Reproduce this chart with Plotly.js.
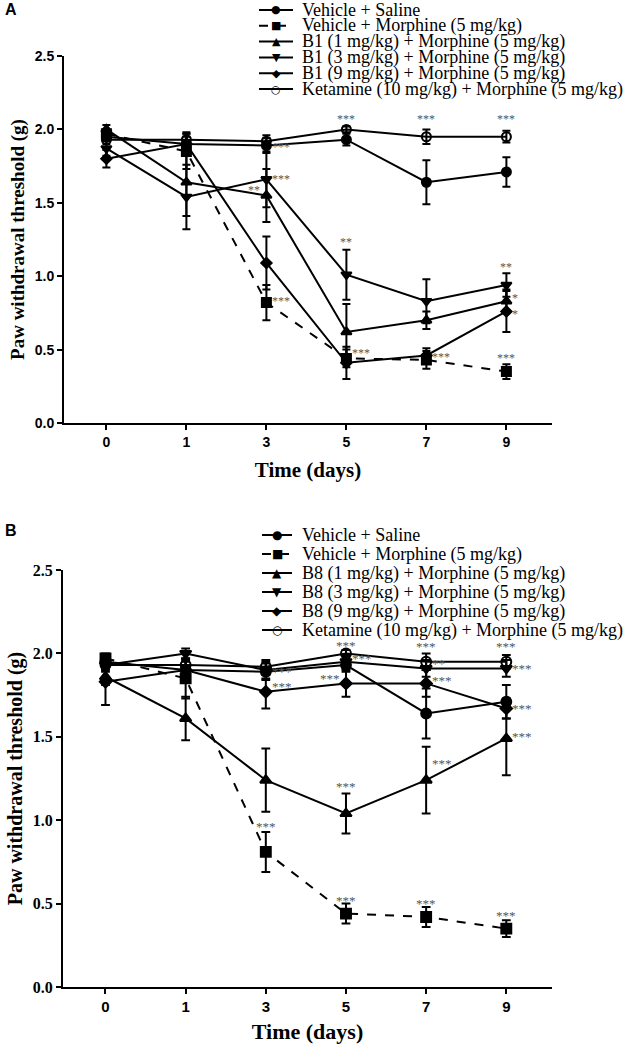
<!DOCTYPE html>
<html>
<head>
<meta charset="utf-8">
<script src="https://cdn.plot.ly/plotly-3.0.1.min.js"></script>
<style>html,body{margin:0;padding:0;background:#fff}#chart{width:633px;height:1057px}</style>
</head>
<body>
<div id="chart"></div>
<script>
// ---------- DATA ----------
const days = ['0', '1', '3', '5', '7', '9'];

const seriesNamesA = ['Vehicle + Saline', 'Vehicle + Morphine (5 mg/kg)', 'B1 (1 mg/kg) + Morphine (5 mg/kg)',
  'B1 (3 mg/kg) + Morphine (5 mg/kg)', 'B1 (9 mg/kg) + Morphine (5 mg/kg)', 'Ketamine (10 mg/kg) + Morphine (5 mg/kg)'];
const seriesNamesB = ['Vehicle + Saline', 'Vehicle + Morphine (5 mg/kg)', 'B8 (1 mg/kg) + Morphine (5 mg/kg)',
  'B8 (3 mg/kg) + Morphine (5 mg/kg)', 'B8 (9 mg/kg) + Morphine (5 mg/kg)', 'Ketamine (10 mg/kg) + Morphine (5 mg/kg)'];

// Panel A
const salineA = [1.95, 1.90, 1.89, 1.93, 1.64, 1.71];
const salineErrA = [0.03, 0.05, 0.05, 0.04, 0.15, 0.10];
const morphineA = [1.97, 1.85, 0.82, 0.44, 0.43, 0.35];
const morphineErrA = [0.03, 0.12, 0.12, 0.06, 0.06, 0.05];
const b1Low = [2.00, 1.64, 1.55, 0.62, 0.70, 0.83];
const b1LowErr = [0.03, 0.23, 0.18, 0.19, 0.06, 0.08];
const b1Mid = [1.87, 1.54, 1.66, 1.01, 0.83, 0.94];
const b1MidErr = [0.05, 0.22, 0.19, 0.17, 0.15, 0.08];
const b1High = [1.80, 1.90, 1.09, 0.41, 0.46, 0.76];
const b1HighErr = [0.06, 0.08, 0.18, 0.11, 0.05, 0.14];
const ketamineA = [1.93, 1.93, 1.92, 2.00, 1.95, 1.95];
const ketamineErrA = [0.03, 0.04, 0.04, 0.02, 0.05, 0.04];

// Panel B
const salineB = [1.95, 1.90, 1.89, 1.93, 1.64, 1.71];
const salineErrB = [0.03, 0.05, 0.05, 0.04, 0.15, 0.10];
const morphineB = [1.97, 1.85, 0.81, 0.44, 0.42, 0.35];
const morphineErrB = [0.03, 0.12, 0.12, 0.06, 0.06, 0.05];
const b8Low = [1.86, 1.61, 1.24, 1.04, 1.24, 1.49];
const b8LowErr = [0.05, 0.13, 0.19, 0.12, 0.20, 0.22];
const b8Mid = [1.93, 2.00, 1.90, 1.95, 1.91, 1.91];
const b8MidErr = [0.04, 0.03, 0.05, 0.04, 0.05, 0.05];
const b8High = [1.83, 1.90, 1.77, 1.82, 1.82, 1.67];
const b8HighErr = [0.14, 0.06, 0.10, 0.08, 0.08, 0.06];
const ketamineB = [1.93, 1.93, 1.92, 2.00, 1.95, 1.95];
const ketamineErrB = [0.03, 0.04, 0.04, 0.02, 0.05, 0.04];

// Significance labels: [day, y value (centre of label), text, side]
const starsA = [
  ['3', 1.88, '***', 'r'], ['3', 1.66, '***', 'r'], ['3', 1.59, '**', 'l'], ['3', 0.83, '***', 'r'],
  ['5', 2.07, '***', 'u'], ['5', 1.23, '**', 'u'], ['5', 0.48, '***', 'r'],
  ['7', 2.07, '***', 'u'], ['7', 0.45, '***', 'r'],
  ['9', 2.07, '***', 'u'], ['9', 1.06, '**', 'u'], ['9', 0.85, '*', 'r'], ['9', 0.74, '*', 'r'], ['9', 0.44, '***', 'u']
];
const starsB = [
  ['3', 1.89, '***', 'r'], ['3', 1.80, '***', 'r'], ['3', 0.96, '***', 'u'],
  ['5', 2.05, '***', 'u'], ['5', 1.97, '***', 'r'], ['5', 1.85, '***', 'l'], ['5', 1.20, '***', 'u'], ['5', 0.52, '***', 'u'],
  ['7', 2.04, '***', 'u'], ['7', 1.94, '**', 'r'], ['7', 1.84, '***', 'r'], ['7', 1.34, '***', 'r'], ['7', 0.50, '***', 'u'],
  ['9', 2.04, '***', 'u'], ['9', 1.91, '***', 'r'], ['9', 1.67, '***', 'r'], ['9', 1.50, '***', 'r'], ['9', 0.43, '***', 'u']
];

// ---------- STYLE ----------
const W = 633, H = 1057;
const fx = p => p / W;
const fy = p => 1 - p / H;
const symbols = ['circle', 'square', 'triangle-up', 'triangle-down', 'diamond', 'circle-open'];
const glyphs = ['\u25CF', '\u25A0', '\u25B2', '\u25BC', '\u25C6', '\u25CB'];
const dashes = ['solid', 'dash', 'solid', 'solid', 'solid', 'solid'];
const msizes = [9, 9, 9, 9, 8, 9];

function mkTraces(vals, errs, xa, ya, scale) {
  return vals.map((v, i) => ({
    type: 'scatter', mode: 'lines+markers', x: days, y: v, xaxis: xa, yaxis: ya,
    showlegend: false, cliponaxis: false,
    line: {color: '#000', width: 2, dash: dashes[i]},
    marker: {symbol: symbols[i], size: msizes[i] * scale, color: '#000', line: {color: '#000', width: 2}},
    error_y: {type: 'data', array: errs[i], visible: true, color: '#000', thickness: 2, width: 4 * scale}
  }));
}

const traces = [
  ...mkTraces([salineA, morphineA, b1Low, b1Mid, b1High, ketamineA],
    [salineErrA, morphineErrA, b1LowErr, b1MidErr, b1HighErr, ketamineErrA], 'x', 'y', 1),
  ...mkTraces([salineB, morphineB, b8Low, b8Mid, b8High, ketamineB],
    [salineErrB, morphineErrB, b8LowErr, b8MidErr, b8HighErr, ketamineErrB], 'x2', 'y2', 1.1)
];

const annotations = [];
const shapes = [];

function addStars(list, xr, yr, fs) {
  list.forEach(([d, y, t, side]) => {
    const a = {xref: xr, yref: yr, x: days.indexOf(d), y: y, text: t, showarrow: false, yanchor: 'middle',
      font: {family: 'Liberation Serif', size: fs, color: '#555'}, borderpad: 0};
    if (side === 'r') { a.xanchor = 'left'; a.xshift = 5; }
    else if (side === 'l') { a.xanchor = 'right'; a.xshift = -5; }
    else { a.xanchor = 'center'; }
    annotations.push(a);
  });
}
addStars(starsA, 'x', 'y', 12);
addStars(starsB, 'x2', 'y2', 13);

function addLegend(names, top, step, lx0, lx1, tx, fs, gs) {
  names.forEach((n, i) => {
    const yy = top + i * step;
    shapes.push({type: 'line', xref: 'paper', yref: 'paper', x0: fx(lx0), x1: fx(lx1), y0: fy(yy), y1: fy(yy),
      line: {color: '#000', width: 2, dash: dashes[i] === 'dash' ? 'dash' : 'solid'}});
    annotations.push({xref: 'paper', yref: 'paper', x: fx((lx0 + lx1) / 2), y: fy(yy), text: glyphs[i],
      showarrow: false, xanchor: 'center', yanchor: 'middle',
      font: {family: 'DejaVu Sans', size: gs, color: '#000'},
      bgcolor: 'rgba(0,0,0,0)', borderpad: 0});
    annotations.push({xref: 'paper', yref: 'paper', x: fx(tx), y: fy(yy), text: n, showarrow: false,
      xanchor: 'left', yanchor: 'middle', borderpad: 0,
      font: {family: 'Liberation Serif', size: fs, color: '#000'}});
  });
}
addLegend(seriesNamesA, 10, 15.8, 259, 293, 301, 18, 11);
addLegend(seriesNamesB, 535, 19, 262, 292, 301, 18, 12);

annotations.push({xref: 'paper', yref: 'paper', x: fx(3), y: fy(10), text: '<b>A</b>', showarrow: false,
  xanchor: 'left', yanchor: 'middle', font: {family: 'Liberation Sans', size: 16, color: '#000'}});
annotations.push({xref: 'paper', yref: 'paper', x: fx(3), y: fy(530), text: '<b>B</b>', showarrow: false,
  xanchor: 'left', yanchor: 'middle', font: {family: 'Liberation Sans', size: 16, color: '#000'}});

const xBase = (dom, anchor, fs, tfs, stand) => ({
  type: 'category', domain: dom, anchor: anchor, range: [-0.53, 5.57],
  showgrid: false, zeroline: false, showline: true, linecolor: '#000', linewidth: 2,
  ticks: 'outside', ticklen: 5, tickwidth: 2, tickcolor: '#000',
  tickfont: {family: 'Liberation Sans', size: fs, color: '#000', weight: 'bold'},
  title: {text: 'Time (days)', standoff: stand, font: {family: 'Liberation Serif', size: tfs, color: '#000', weight: 'bold'}}
});
const yBase = (dom, anchor, fs, tfam, tfs, stand) => ({
  domain: dom, anchor: anchor, range: [0, 2.5], tickvals: [0, 0.5, 1, 1.5, 2, 2.5],
  ticktext: ['0.0', '0.5', '1.0', '1.5', '2.0', '2.5'],
  showgrid: false, zeroline: false, showline: true, linecolor: '#000', linewidth: 2,
  ticks: 'outside', ticklen: 5, tickwidth: 2, tickcolor: '#000',
  tickfont: {family: tfam, size: fs, color: '#000', weight: 'bold'},
  title: {text: 'Paw withdrawal threshold (g)', standoff: stand,
    font: {family: 'Liberation Serif', size: tfs, color: '#000', weight: 'bold'}}
});

const layout = {
  width: W, height: H, margin: {l: 0, r: 0, t: 0, b: 0},
  paper_bgcolor: '#fff', plot_bgcolor: '#fff', showlegend: false,
  xaxis: xBase([fx(64), fx(552)], 'y', 14, 21, 14),
  yaxis: yBase([fy(423), fy(56)], 'x', 14, 'Liberation Sans', 19, 5),
  xaxis2: xBase([fx(63), fx(552)], 'y2', 15, 22, 10),
  yaxis2: yBase([fy(987), fy(570)], 'x2', 16, 'Liberation Serif', 20, 5),
  annotations: annotations, shapes: shapes
};

Plotly.newPlot('chart', traces, layout, {staticPlot: true, displayModeBar: false});
</script>
</body>
</html>
